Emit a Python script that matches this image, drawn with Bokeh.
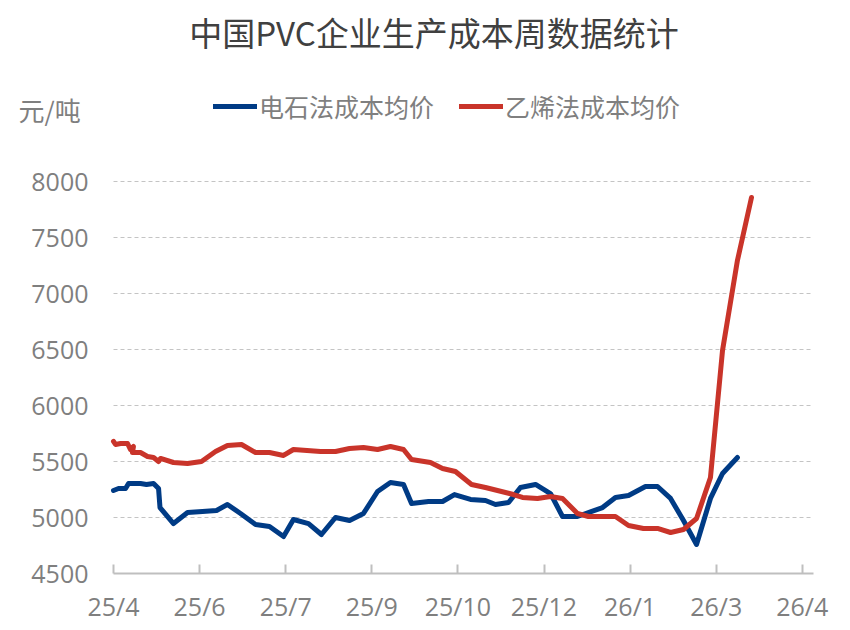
from bokeh.embed import file_html
from bokeh.resources import INLINE
from bokeh.plotting import figure
from bokeh.models import FixedTicker, Label, Legend, LegendItem, Range1d

TITLE = "中国PVC企业生产成本周数据统计"
UNIT = "元/吨"
NAME_A = "电石法成本均价"
NAME_B = "乙烯法成本均价"

# x is in weeks since the first date; a tick label falls every six weeks
tick_weeks = [0, 6, 12, 18, 24, 30, 36, 42, 48]
tick_labels = ["25/4", "25/6", "25/7", "25/9", "25/10", "25/12", "26/1", "26/3", "26/4"]
y_ticks = [4500, 5000, 5500, 6000, 6500, 7000, 7500, 8000]

weeks_a = [0, .35, .84, 1.05, 1.88, 2.3, 2.79, 3.14, 3.24, 4.18, 5.16, 6.2, 7.18, 7.94, 8.85, 9.9,
           10.87, 11.85, 12.54, 13.59, 14.49, 15.47, 16.45, 17.42, 18.4, 19.3, 20.21, 20.77, 21.95,
           22.93, 23.76, 24.88, 25.92, 26.62, 27.53, 28.36, 29.41, 30.45, 31.29, 32.33, 34.08, 34.98,
           35.89, 37.07, 37.91, 38.82, 39.72, 40.63, 41.6, 42.44, 43.48]
cost_a = [5241, 5259, 5259, 5304, 5304, 5295, 5304, 5259, 5089, 4946, 5045, 5054, 5063, 5116, 5036, 4938,
          4920, 4830, 4982, 4946, 4848, 5000, 4973, 5036, 5232, 5313, 5295, 5125, 5143,
          5143, 5205, 5161, 5152, 5116, 5134, 5268, 5295, 5214, 5009, 5009, 5089, 5179,
          5196, 5277, 5277, 5170, 4973, 4759, 5170, 5393, 5536]

weeks_b = [0, .14, .49, .98, 1.18, 1.39, 1.32, 1.88, 2.37, 2.79, 3.14, 3.28, 4.18, 5.16, 6.13, 7.11, 7.94,
           8.92, 9.9, 10.87, 11.85, 12.54, 14.43, 15.47, 16.45, 17.42, 18.4, 19.3, 20.21, 20.77, 22.09,
           22.93, 23.83, 24.95, 25.92, 27.87, 28.5, 29.55, 30.45, 31.29, 32.33, 33.1, 34.98, 35.89,
           36.93, 37.91, 38.82, 39.72, 40.63, 41.6, 42.44, 43.48, 44.46]
cost_b = [5679, 5652, 5661, 5661, 5607, 5634, 5580, 5580, 5545, 5536, 5500, 5527, 5491, 5482, 5500, 5589, 5643,
          5652, 5580, 5580, 5554, 5607, 5589, 5589, 5616, 5625, 5607, 5634, 5607, 5518, 5491,
          5438, 5411, 5295, 5268, 5205, 5179, 5170, 5188, 5170, 5036, 5009, 5009, 4929,
          4902, 4902, 4866, 4893, 4991, 5357, 6491, 7295, 7857]

CJK = "Noto Sans CJK SC"
NUM = "Open Sans"
GREY = "#7f7f7f"

W, H = 842, 626
PX_PER_WEEK = 14.35
X_END = 48.78
PX_PER_UNIT = 56 / 500
# the frame fills the whole canvas, so all texts lie inside it;
# both axes are fixed at week 0 and 4500 (113 px from the left, 573 px from the top)
p = figure(width=W, height=H, output_backend="svg", toolbar_location=None,
           x_range=Range1d(-113 / PX_PER_WEEK, (W - 113) / PX_PER_WEEK),
           y_range=Range1d(4500 - (H - 573) / PX_PER_UNIT, 8000 + 181 / PX_PER_UNIT),
           min_border_left=0, min_border_right=0, min_border_top=0, min_border_bottom=0,
           background_fill_color="white", border_fill_color="white", outline_line_color=None)

p.xgrid.visible = False
p.ygrid.ticker = FixedTicker(ticks=y_ticks[1:])
p.ygrid.grid_line_color = "#c4c4c4"
p.ygrid.grid_line_dash = "4 3"
p.ygrid.grid_line_width = 1
p.ygrid.cross_bounds = (0, X_END)

xa = p.xaxis[0]
xa.fixed_location = 4500
xa.bounds = (0, X_END)
xa.ticker = FixedTicker(ticks=tick_weeks)
xa.major_label_overrides = dict(zip(tick_weeks, tick_labels))
xa.major_label_text_font = NUM
xa.major_label_text_font_size = "25px"
xa.major_label_text_color = GREY
xa.major_label_standoff = 15
xa.axis_line_color = "#bfbfbf"
xa.axis_line_width = 2
xa.major_tick_line_color = "#bfbfbf"
xa.major_tick_line_width = 2
xa.major_tick_in = 9
xa.major_tick_out = 0
xa.minor_tick_line_color = None

ya = p.yaxis[0]
ya.fixed_location = 0
ya.ticker = FixedTicker(ticks=y_ticks)
ya.major_label_text_font = NUM
ya.major_label_text_font_size = "25px"
ya.major_label_text_color = GREY
ya.major_label_standoff = 19
ya.axis_line_color = None
ya.major_tick_line_color = None
ya.minor_tick_line_color = None

r_a = p.line(weeks_a, cost_a, line_color="#003b85", line_width=5, line_join="round", line_cap="round")
r_b = p.line(weeks_b, cost_b, line_color="#c9342a", line_width=5, line_join="round", line_cap="round")

legend = Legend(items=[LegendItem(label=NAME_A, renderers=[r_a]), LegendItem(label=NAME_B, renderers=[r_b])],
                orientation="horizontal", location=(213, H - 124), background_fill_alpha=0, border_line_color=None,
                label_text_font=CJK, label_text_font_size="25px", label_text_color=GREY,
                glyph_width=44, glyph_height=24, label_standoff=2, spacing=25, padding=4, margin=0)
p.add_layout(legend, "center")

p.add_layout(Label(x=433.5, y=H - 31, x_units="screen", y_units="screen",
                   text=TITLE, text_font=CJK,
                   text_font_size="33px", text_color="#404040", text_align="center", text_baseline="middle"))
p.add_layout(Label(x=18, y=H - 109, x_units="screen", y_units="screen", text=UNIT, text_font=CJK,
                   text_font_size="26px", text_color=GREY, text_align="left", text_baseline="middle"))

open("out.html", "w").write(file_html(p, INLINE))
